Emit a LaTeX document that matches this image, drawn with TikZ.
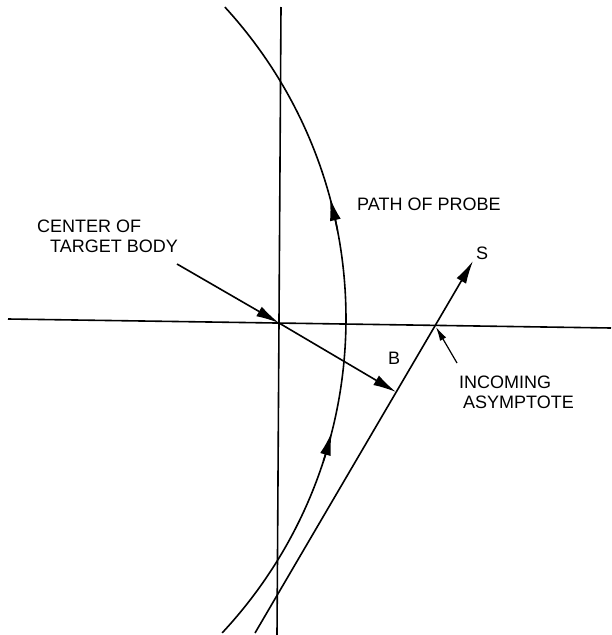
\documentclass[tikz,border=0pt]{standalone}
\usepackage{fontspec}
\setmainfont{Liberation Sans}
\usetikzlibrary{arrows.meta,bending,calc}
\begin{document}
\begin{tikzpicture}[x=1pt,y=-1pt,
  ln/.style={line width=1.6pt},
  bigarr/.style={-{Latex[length=23pt,width=11pt]}},
  smallarr/.style={-{Latex[length=14pt,width=7pt]}},
  lbl/.style={font=\fontsize{18}{20}\selectfont, inner sep=0pt, anchor=base west}]
\useasboundingbox (0,0) rectangle (611,635);
% axes
\coordinate (hl) at (8,319);
\coordinate (hr) at (611,328);
\coordinate (vt) at (281,7);
\coordinate (vb) at (277,635);
\coordinate (C) at (279,323);
\draw[ln] (hl) -- (hr);
\draw[ln] (vt) -- (vb);
% path of probe (arc)
\coordinate (O) at (-115,318.5);
\coordinate (ptop) at ($(O)+(-42.5:461)$);
\draw[ln] (ptop) arc[start angle=-42.5, end angle=43, radius=461];
\draw[ln,bigarr] ($(O)+(18:461)$) arc[start angle=18, end angle=14.3, radius=461];
\draw[ln,bigarr] ($(O)+(-11:461)$) arc[start angle=-11, end angle=-15.2, radius=461];
% incoming asymptote
\coordinate (a0) at (255,633);
\coordinate (S) at (473,261);
\coordinate (Bt) at (396,392);
\coordinate (X) at (436,327);
\draw[ln,bigarr] (a0) -- (S);
% B
\draw[ln,bigarr] (C) -- (Bt);
% center of target body pointer
\coordinate (ct) at (177,264);
\draw[ln,bigarr] (ct) -- (C);
% incoming asymptote pointer
\coordinate (it) at (457,363);
\draw[line width=1.2pt,smallarr] (it) -- (X);
% labels
\node[lbl] (l1) at (37,232) {CENTER OF};
\node[lbl] (l2) at (50,252) {TARGET BODY};
\node[lbl] (l3) at (357,210) {PATH OF PROBE};
\node[lbl] (l4) at (476,259) {S};
\node[lbl] (l5) at (388,364) {B};
\node[lbl] (l6) at (459,388) {INCOMING};
\node[lbl] (l7) at (463,408) {ASYMPTOTE};
\end{tikzpicture}
\end{document}
